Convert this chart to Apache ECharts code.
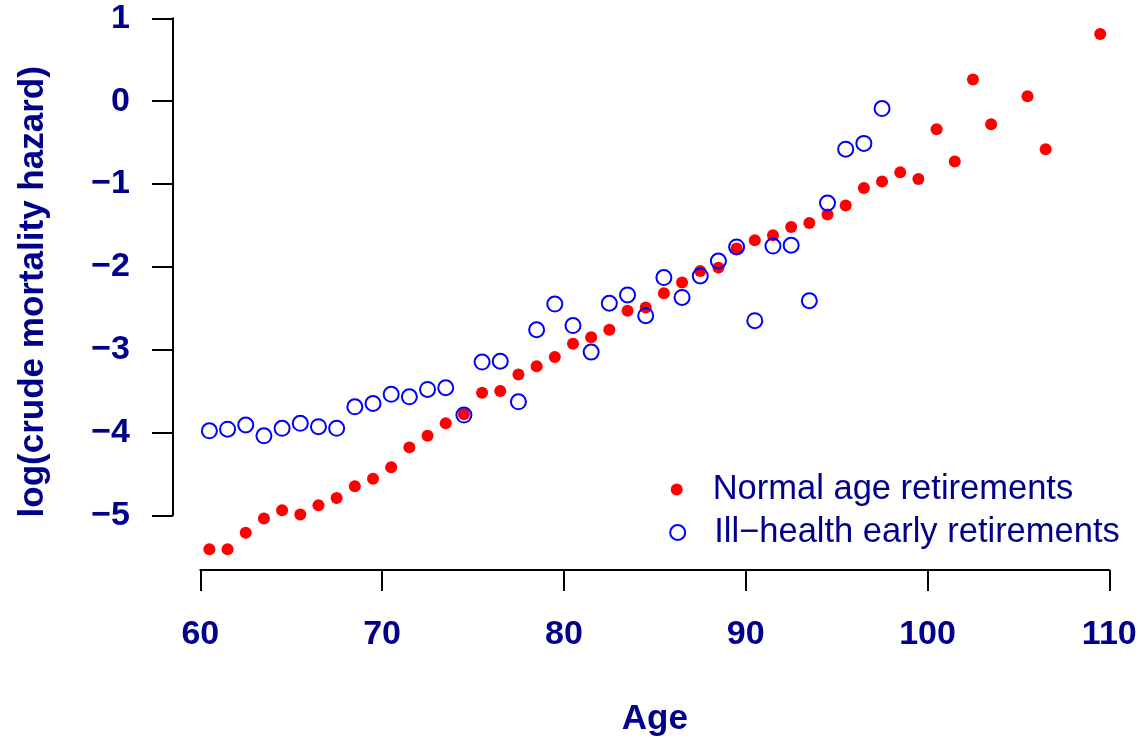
<!DOCTYPE html>
<html>
<head>
<meta charset="utf-8">
<script src="https://cdn.jsdelivr.net/npm/echarts@6/dist/echarts.min.js"></script>
<style>
html,body{margin:0;padding:0;background:#fff;}
#chart{width:1141px;height:738px;}
</style>
</head>
<body>
<div id="chart"></div>
<script>
const normalAges = [60.5,61.5,62.5,63.5,64.5,65.5,66.5,67.5,68.5,69.5,70.5,71.5,72.5,73.5,74.5,75.5,76.5,77.5,78.5,79.5,80.5,81.5,82.5,83.5,84.5,85.5,86.5,87.5,88.5,89.5,90.5,91.5,92.5,93.5,94.5,95.5,96.5,97.5,98.5,99.5,100.5,101.5,102.5,103.5,105.5,106.5,109.5];
const normalVals = [-5.41,-5.41,-5.21,-5.04,-4.94,-4.99,-4.88,-4.79,-4.65,-4.56,-4.42,-4.18,-4.04,-3.89,-3.78,-3.52,-3.50,-3.30,-3.20,-3.09,-2.93,-2.85,-2.76,-2.53,-2.49,-2.32,-2.19,-2.05,-2.01,-1.78,-1.68,-1.62,-1.52,-1.47,-1.37,-1.26,-1.05,-0.97,-0.86,-0.94,-0.34,-0.73,0.26,-0.28,0.06,-0.58,0.81];
const illAges = [60.5,61.5,62.5,63.5,64.5,65.5,66.5,67.5,68.5,69.5,70.5,71.5,72.5,73.5,74.5,75.5,76.5,77.5,78.5,79.5,80.5,81.5,82.5,83.5,84.5,85.5,86.5,87.5,88.5,89.5,90.5,91.5,92.5,93.5,94.5,95.5,96.5,97.5];
const illVals = [-3.98,-3.96,-3.91,-4.04,-3.95,-3.89,-3.93,-3.95,-3.69,-3.65,-3.54,-3.57,-3.48,-3.46,-3.79,-3.15,-3.14,-3.63,-2.76,-2.45,-2.71,-3.03,-2.44,-2.34,-2.59,-2.13,-2.37,-2.11,-1.93,-1.76,-2.65,-1.75,-1.74,-2.41,-1.23,-0.58,-0.51,-0.09];
const xTicks = [60,70,80,90,100,110];
const yTicks = [-5,-4,-3,-2,-1,0,1];
const nameNormal = 'Normal age retirements';
const nameIll = 'Ill\u2212health early retirements';

const FONT = '"Liberation Sans", Arial, Helvetica, sans-serif';
const NAVY = '#00008B';
const fmt = v => String(v).replace('-', '\u2212');

const chart = echarts.init(document.getElementById('chart'), null, {renderer:'canvas'});
chart.setOption({
  backgroundColor:'#ffffff',
  animation:false,
  grid:{left:200.3, right:31.7, top:18.3, bottom:222.7, containLabel:false, outerBoundsMode:'none'},
  xAxis:{
    type:'value', min:xTicks[0], max:xTicks[xTicks.length-1], interval:10,
    offset:54.7,
    name:'Age', nameLocation:'middle', nameGap:132,
    nameTextStyle:{color:NAVY, fontFamily:FONT, fontWeight:'bold', fontSize:35},
    axisLine:{show:true, onZero:false, lineStyle:{color:'#000', width:2}},
    axisTick:{show:true, length:21, lineStyle:{color:'#000', width:2}},
    axisLabel:{color:NAVY, fontFamily:FONT, fontWeight:'bold', fontSize:34, margin:48, formatter:fmt},
    splitLine:{show:false}
  },
  yAxis:{
    type:'value', min:yTicks[0], max:yTicks[yTicks.length-1], interval:1,
    offset:27.3,
    name:'log(crude mortality hazard)', nameLocation:'middle', nameGap:122,
    nameTextStyle:{color:NAVY, fontFamily:FONT, fontWeight:'bold', fontSize:35, padding:[0,50,0,0]},
    axisLine:{show:true, onZero:false, lineStyle:{color:'#000', width:2}},
    axisTick:{show:true, length:21, lineStyle:{color:'#000', width:2}},
    axisLabel:{color:NAVY, fontFamily:FONT, fontWeight:'bold', fontSize:34, margin:43, formatter:fmt},
    splitLine:{show:false}
  },
  legend:[
    {
      data:[{name:nameNormal, icon:'circle', itemStyle:{color:'#FF0000', borderWidth:0}}],
      orient:'vertical', left:670.7, top:472, itemWidth:12, itemHeight:12, padding:0,
      textStyle:{color:NAVY, fontFamily:FONT, fontSize:34.5, padding:[0,0,0,25]}
    },
    {
      data:[{name:nameIll, icon:'circle', itemStyle:{color:'#ffffff', borderColor:'#0000FF', borderWidth:2}}],
      orient:'vertical', left:669.2, top:515, itemWidth:15, itemHeight:15, padding:0,
      textStyle:{color:NAVY, fontFamily:FONT, fontSize:34.5, padding:[0,0,0,24]}
    }
  ],
  series:[
    {
      name:nameNormal, type:'scatter', clip:false,
      symbol:'circle', symbolSize:12,
      itemStyle:{color:'#FF0000', opacity:1},
      data:normalAges.map((a,i)=>[a, normalVals[i]])
    },
    {
      name:nameIll, type:'scatter', clip:false,
      symbol:'circle', symbolSize:15,
      itemStyle:{color:'rgba(0,0,0,0)', borderColor:'#0000FF', borderWidth:2, opacity:1},
      data:illAges.map((a,i)=>[a, illVals[i]])
    }
  ]
});
</script>
</body>
</html>
